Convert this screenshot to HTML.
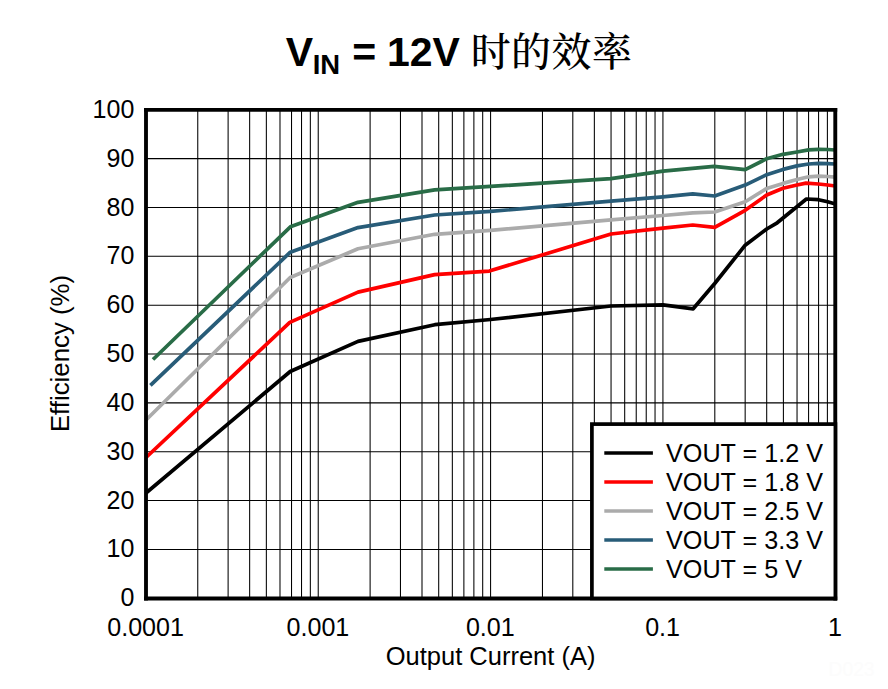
<!DOCTYPE html>
<html lang="zh">
<head>
<meta charset="utf-8">
<title>VIN = 12V 时的效率</title>
<style>
html,body{margin:0;padding:0;background:#ffffff;}
body{width:888px;height:689px;overflow:hidden;}
svg{display:block;}
text{font-family:"Liberation Sans",sans-serif;fill:#000;}
</style>
</head>
<body>
<svg width="888" height="689" viewBox="0 0 888 689">
<rect x="0" y="0" width="888" height="689" fill="#ffffff"/>
<path d="M197.76 110.20V598.40M228.11 110.20V598.40M249.65 110.20V598.40M266.35 110.20V598.40M279.99 110.20V598.40M291.53 110.20V598.40M301.53 110.20V598.40M310.34 110.20V598.40M318.23 110.20V598.40M370.11 110.20V598.40M400.46 110.20V598.40M422.00 110.20V598.40M438.70 110.20V598.40M452.34 110.20V598.40M463.88 110.20V598.40M473.88 110.20V598.40M482.69 110.20V598.40M490.58 110.20V598.40M542.46 110.20V598.40M572.81 110.20V598.40M594.35 110.20V598.40M611.05 110.20V598.40M624.69 110.20V598.40M636.23 110.20V598.40M646.23 110.20V598.40M655.04 110.20V598.40M662.93 110.20V598.40M714.81 110.20V598.40M745.16 110.20V598.40M766.70 110.20V598.40M783.40 110.20V598.40M797.04 110.20V598.40M808.58 110.20V598.40M818.58 110.20V598.40M827.39 110.20V598.40M146.00 549.40H835.40M146.00 500.55H835.40M146.00 451.71H835.40M146.00 402.86H835.40M146.00 354.02H835.40M146.00 305.18H835.40M146.00 256.33H835.40M146.00 207.49H835.40M146.00 158.64H835.40" fill="none" stroke="#000" stroke-width="1.05"/>
<clipPath id="pc"><rect x="146.0" y="110.2" width="689.4" height="488.2"/></clipPath>
<g clip-path="url(#pc)" fill="none" stroke-width="3.7" stroke-linejoin="round" stroke-linecap="butt">
<polyline points="146.0,493.0 290.2,371.5 358.0,341.4 434.8,324.7 490.5,319.5 611.0,306.0 663.0,304.9 693.2,308.8 714.7,283.5 745.2,245.2 766.7,229.0 777.2,222.8 806.4,199.0 818.5,199.7 827.7,201.8 835.4,204.0" stroke="#000000"/>
<polyline points="146.0,457.5 289.8,322.4 358.0,292.1 434.6,274.6 489.3,271.1 611.0,234.0 663.0,228.2 692.8,225.0 714.7,227.3 745.2,210.3 766.7,195.0 783.0,188.2 797.0,185.0 806.0,183.1 818.5,184.0 827.7,185.0 835.4,186.0" stroke="#ff0000"/>
<polyline points="146.0,420.0 290.2,277.5 358.0,248.8 434.6,234.3 490.5,230.3 611.0,219.8 663.0,215.5 692.8,212.8 714.7,212.0 745.2,201.8 766.7,188.4 783.0,183.4 797.0,179.5 808.6,176.8 818.5,176.2 827.7,176.5 835.4,177.1" stroke="#ababab"/>
<polyline points="150.4,385.4 290.3,252.2 358.0,227.6 434.6,215.0 490.5,211.4 611.0,201.2 663.0,196.8 692.8,193.9 714.7,196.0 745.2,185.1 766.7,174.7 783.0,169.4 797.0,165.9 808.6,164.0 818.5,163.4 827.7,163.6 835.4,164.0" stroke="#285c78"/>
<polyline points="153.0,359.5 290.4,226.8 358.0,202.3 434.6,189.8 490.5,186.4 611.0,178.7 663.0,171.2 714.0,166.3 745.2,169.6 766.7,158.7 783.0,154.3 797.0,152.0 808.6,149.9 818.5,149.4 827.7,149.5 835.4,150.0" stroke="#296c47"/>
</g>
<path d="M144.07 109.95H837.2" stroke="#000" stroke-width="3.8" fill="none"/>
<path d="M144.07 598.45H837.2" stroke="#000" stroke-width="4.1" fill="none"/>
<path d="M146.0 108.05V600.5" stroke="#000" stroke-width="3.86" fill="none"/>
<path d="M835.28 108.05V600.5" stroke="#000" stroke-width="3.9" fill="none"/>
<rect x="591.9" y="424.1" width="243.50" height="174.30" fill="#fff" stroke="#000" stroke-width="3.7"/>
<line x1="604.3" y1="453.0" x2="652.9" y2="453.0" stroke="#000000" stroke-width="3.7"/>
<text x="666" y="462.0" font-size="25.2">VOUT = 1.2 V</text>
<line x1="604.3" y1="482.0" x2="652.9" y2="482.0" stroke="#ff0000" stroke-width="3.7"/>
<text x="666" y="491.0" font-size="25.2">VOUT = 1.8 V</text>
<line x1="604.3" y1="511.0" x2="652.9" y2="511.0" stroke="#ababab" stroke-width="3.7"/>
<text x="666" y="520.0" font-size="25.2">VOUT = 2.5 V</text>
<line x1="604.3" y1="540.0" x2="652.9" y2="540.0" stroke="#285c78" stroke-width="3.7"/>
<text x="666" y="549.0" font-size="25.2">VOUT = 3.3 V</text>
<line x1="604.3" y1="569.0" x2="652.9" y2="569.0" stroke="#296c47" stroke-width="3.7"/>
<text x="666" y="578.0" font-size="25.2">VOUT = 5 V</text>
<text x="134.3" y="606.2" font-size="25.0" text-anchor="end">0</text>
<text x="134.3" y="557.4" font-size="25.0" text-anchor="end">10</text>
<text x="134.3" y="508.6" font-size="25.0" text-anchor="end">20</text>
<text x="134.3" y="459.7" font-size="25.0" text-anchor="end">30</text>
<text x="134.3" y="410.9" font-size="25.0" text-anchor="end">40</text>
<text x="134.3" y="362.0" font-size="25.0" text-anchor="end">50</text>
<text x="134.3" y="313.2" font-size="25.0" text-anchor="end">60</text>
<text x="134.3" y="264.3" font-size="25.0" text-anchor="end">70</text>
<text x="134.3" y="215.5" font-size="25.0" text-anchor="end">80</text>
<text x="134.3" y="166.6" font-size="25.0" text-anchor="end">90</text>
<text x="134.3" y="117.8" font-size="25.0" text-anchor="end">100</text>
<text x="145.6" y="635.8" font-size="25.1" text-anchor="middle">0.0001</text>
<text x="317.9" y="635.8" font-size="25.1" text-anchor="middle">0.001</text>
<text x="490.3" y="635.8" font-size="25.1" text-anchor="middle">0.01</text>
<text x="662.6" y="635.8" font-size="25.1" text-anchor="middle">0.1</text>
<text x="835.0" y="635.8" font-size="25.1" text-anchor="middle">1</text>
<text x="490.6" y="665.2" font-size="25.5" text-anchor="middle">Output Current (A)</text>
<text transform="translate(69.2 353.5) rotate(-90)" font-size="25.8" text-anchor="middle">Efficiency (%)</text>
<g font-weight="bold">
<text x="285.7" y="65.8" font-size="41">V</text>
<text x="312.7" y="73.6" font-size="27.4">IN</text>
<text x="352.3" y="65.8" font-size="41">=</text>
<text x="387" y="65.8" font-size="41">12V</text>
</g>
<text x="470.7" y="66.3" font-size="40" font-weight="500" letter-spacing="0.4" style="font-family:'Liberation Serif','Noto Serif CJK SC',serif">时的效率</text>
<text x="828.5" y="675.8" font-size="19.3" style="fill:#fcfcfc">D023</text>
</svg>
</body>
</html>
